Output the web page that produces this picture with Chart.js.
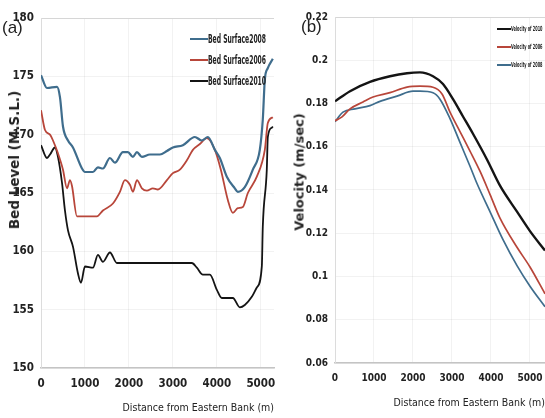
<!DOCTYPE html>
<html>
<head>
<meta charset="utf-8">
<script src="https://cdn.jsdelivr.net/npm/chart.js@4.4.1/dist/chart.umd.min.js"></script>
<style>
  html, body { margin: 0; padding: 0; background: #fff; }
  body { width: 545px; height: 418px; position: relative; overflow: hidden; }
  canvas { position: absolute; top: 0; }
  #chartA { left: 0; }
  #chartB { left: 280px; }
  .tag { position: absolute; font-family: "Liberation Sans", "DejaVu Sans", sans-serif; font-size: 17px; color: #222; line-height: 1; }
  .ytitle { position: absolute; white-space: nowrap; font-family: "DejaVu Sans", sans-serif; font-weight: bold; color: #222; transform: translate(-50%, -50%) rotate(-90deg); }
  .legend { position: absolute; font-family: "Liberation Sans Narrow", "DejaVu Sans Condensed", sans-serif; font-weight: bold; color: #222; }
  .legend .row { position: absolute; display: flex; align-items: center; white-space: nowrap; }
  .legend .sw { display: inline-block; height: 2px; }
</style>
</head>
<body>
<canvas id="chartA" width="280" height="418"></canvas>
<canvas id="chartB" width="265" height="418"></canvas>
<div class="tag" style="left:2px; top:19px;">(a)</div>
<div class="tag" style="left:301px; top:18px;">(b)</div>
<div class="ytitle" style="left:14px; top:160px; font-size:13.5px;">Bed Level (M.S.L.)</div>
<div class="ytitle" style="left:299px; top:172px; font-size:13px;">Velocity (m/sec)</div>
<div class="legend" id="legendA"></div>
<div class="legend" id="legendB"></div>
<script>
// (a) bed level profiles: distance from eastern bank (m) and level (m, M.S.L.)
const distBed2008 = [0, 136, 364, 432, 500, 614, 727, 932, 1000, 1182, 1295, 1409, 1568, 1682, 1864, 1977, 2091, 2182, 2295, 2477, 2705, 2864, 3000, 3227, 3500, 3659, 3795, 3955, 4068, 4227, 4409, 4477, 4636, 4818, 4977, 5045, 5091, 5159, 5273];
const bed2008 = [175.1, 174.0, 174.1, 173.2, 170.7, 169.5, 168.9, 167.1, 166.8, 166.8, 167.2, 167.1, 168.0, 167.6, 168.5, 168.5, 168.1, 168.5, 168.1, 168.3, 168.3, 168.6, 168.9, 169.1, 169.8, 169.5, 169.8, 168.7, 168.0, 166.4, 165.4, 165.1, 165.5, 167.0, 168.7, 171.3, 174.7, 175.7, 176.5];

const distBed2006 = [0, 91, 205, 273, 386, 500, 591, 659, 705, 818, 1000, 1273, 1409, 1636, 1795, 1909, 2023, 2091, 2182, 2295, 2409, 2545, 2659, 2864, 3000, 3159, 3318, 3455, 3614, 3773, 3955, 4091, 4250, 4364, 4477, 4591, 4705, 4909, 5091, 5159, 5273];
const bed2006 = [172.1, 170.4, 170.0, 169.5, 168.4, 167.0, 165.4, 166.1, 165.6, 163.0, 163.0, 163.0, 163.5, 164.1, 165.1, 166.1, 165.7, 165.1, 166.1, 165.4, 165.2, 165.4, 165.3, 166.1, 166.7, 167.0, 167.8, 168.7, 169.2, 169.7, 168.7, 167.0, 164.4, 163.3, 163.7, 163.8, 165.0, 166.4, 168.7, 171.0, 171.5];

const distBed2010 = [0, 136, 205, 318, 386, 477, 545, 614, 727, 841, 909, 1000, 1182, 1295, 1409, 1568, 1727, 3432, 3545, 3682, 3841, 4000, 4114, 4364, 4523, 4636, 4795, 4909, 5023, 5045, 5136, 5159, 5250, 5273];
const bed2010 = [169.1, 168.0, 168.3, 168.9, 168.1, 165.9, 163.5, 161.8, 160.4, 158.1, 157.3, 158.7, 158.6, 159.7, 159.1, 159.9, 159.0, 159.0, 158.6, 158.0, 158.0, 156.7, 156.0, 156.0, 155.2, 155.4, 156.1, 156.9, 158.7, 162.1, 167.0, 169.8, 170.6, 170.7];

// (b) velocity profiles (m/sec)
const distVel2010 = [0, 385, 897, 1410, 1846, 2179, 2513, 2769, 3026, 3282, 3538, 3900, 4231, 4667, 5000, 5385];
const vel2010 = [0.181, 0.1857, 0.190, 0.1926, 0.194, 0.1944, 0.1926, 0.189, 0.182, 0.174, 0.166, 0.154, 0.142, 0.130, 0.121, 0.112];

const distVel2006 = [0, 180, 385, 718, 974, 1410, 1846, 2179, 2513, 2744, 2949, 3205, 3462, 3718, 3974, 4231, 4667, 5000, 5385];
const vel2006 = [0.172, 0.1738, 0.1775, 0.1807, 0.183, 0.185, 0.1876, 0.188, 0.1875, 0.1844, 0.176, 0.167, 0.158, 0.1487, 0.138, 0.127, 0.1135, 0.1044, 0.092];

const distVel2008 = [0, 205, 513, 897, 1154, 1590, 2000, 2179, 2513, 2692, 2949, 3205, 3462, 3641, 3974, 4308, 4667, 5000, 5385];
const vel2008 = [0.1716, 0.176, 0.1775, 0.179, 0.181, 0.1834, 0.1857, 0.1857, 0.185, 0.182, 0.173, 0.162, 0.151, 0.143, 0.130, 0.117, 0.105, 0.0955, 0.086];

// tick labels
const distTicks = [0, 1000, 2000, 3000, 4000, 5000];
const bedTicks = [150, 155, 160, 165, 170, 175, 180];
const velTicks = [0.06, 0.08, 0.1, 0.12, 0.14, 0.16, 0.18, 0.2, 0.22];

const labelsA = ['Bed Surface2008', 'Bed Surface2006', 'Bed Surface2010'];
const labelsB = ['Velocity of 2010', 'Velocity of 2006', 'Velocity of 2008'];

const narrow = '"Liberation Sans Narrow", "DejaVu Sans Condensed", sans-serif';
const blue = '#3f6d8d', red = '#b8463a', black = '#141414';

function pairs(xs, ys) {
    return xs.map((x, i) => ({ x: x, y: ys[i] }));
}

function gridColor(ctx) {
    return ctx.tick && Math.abs(ctx.tick.value - ctx.scale.max) < 1e-9 ? '#d6d6d6' : 'rgba(0,0,0,0.05)';
}

function baseOptions(xMax, yMin, yMax, yTicks, yWidth, xHeight, pad, titlePad, tickSize) {
    return {
        responsive: false,
        animation: false,
        layout: { padding: pad },
        elements: { point: { radius: 0 }, line: { cubicInterpolationMode: 'monotone' } },
        plugins: { legend: { display: false }, tooltip: { enabled: false } },
        scales: {
            x: {
                type: 'linear', min: 0, max: xMax,
                afterBuildTicks: function (s) { s.ticks = distTicks.map(v => ({ value: v })); },
                ticks: { autoSkip: false, maxRotation: 0, padding: 9, callback: v => String(v),
                         font: { family: narrow, size: tickSize, weight: 'bold' }, color: '#222' },
                grid: { color: 'rgba(0,0,0,0.05)', drawTicks: false },
                border: { color: '#c4c4c4', width: 1.5 },
                title: { display: true, text: 'Distance from Eastern Bank (m)', align: 'end',
                         font: { family: narrow, size: 10.5 }, color: '#222', padding: { top: 0, bottom: titlePad } },
                afterFit: function (s) { s.height = xHeight; s.paddingLeft = 0; s.paddingRight = 0; }
            },
            y: {
                min: yMin, max: yMax,
                afterBuildTicks: function (s) { s.ticks = yTicks.map(v => ({ value: v })); },
                ticks: { autoSkip: false, padding: 7, callback: v => String(+v.toFixed(2)),
                         font: { family: narrow, size: tickSize, weight: 'bold' }, color: '#222' },
                grid: { color: gridColor, drawTicks: false },
                border: { color: '#dcdcdc', width: 1 },
                afterFit: function (s) { s.width = yWidth; s.paddingTop = 0; s.paddingBottom = 0; }
            }
        }
    };
}

const chartA = new Chart(document.getElementById('chartA'), {
    type: 'line',
    data: {
        datasets: [
            { label: labelsA[0], data: pairs(distBed2008, bed2008), borderColor: blue, borderWidth: 2.2 },
            { label: labelsA[1], data: pairs(distBed2006, bed2006), borderColor: red, borderWidth: 1.8 },
            { label: labelsA[2], data: pairs(distBed2010, bed2010), borderColor: black, borderWidth: 1.8 }
        ]
    },
    options: baseOptions(5300, 150, 180, bedTicks, 41, 50, { left: 0, right: 6, top: 18, bottom: 0 }, 3, 11.5)
});

const chartB = new Chart(document.getElementById('chartB'), {
    type: 'line',
    data: {
        datasets: [
            { label: labelsB[0], data: pairs(distVel2010, vel2010), borderColor: black, borderWidth: 2.4 },
            { label: labelsB[1], data: pairs(distVel2006, vel2006), borderColor: red, borderWidth: 1.7 },
            { label: labelsB[2], data: pairs(distVel2008, vel2008), borderColor: blue, borderWidth: 1.7 }
        ]
    },
    options: baseOptions(5385, 0.06, 0.22, velTicks, 55, 55, { left: 0, right: 0, top: 17, bottom: 0 }, 8, 10)
});

// legends inside the plot areas, built from the datasets
function buildLegend(el, chart, left, top, gap, lineLen, fontSize, squeeze) {
    el.style.left = left + 'px';
    el.style.top = top + 'px';
    chart.data.datasets.forEach(function (ds, i) {
        const row = document.createElement('div');
        row.className = 'row';
        row.style.top = (i * gap) + 'px';
        row.style.fontSize = fontSize + 'px';
        const sw = document.createElement('span');
        sw.className = 'sw';
        sw.style.width = lineLen + 'px';
        sw.style.background = ds.borderColor;
        const tx = document.createElement('span');
        tx.textContent = ds.label;
        tx.style.display = 'inline-block';
        tx.style.transform = 'scaleX(' + squeeze + ')';
        tx.style.transformOrigin = 'left center';
        row.appendChild(sw);
        row.appendChild(tx);
        el.appendChild(row);
    });
}
buildLegend(document.getElementById('legendA'), chartA, 190, 32, 21, 18, 12, 0.56);
buildLegend(document.getElementById('legendB'), chartB, 497, 25, 18, 14, 7, 0.55);
</script>
</body>
</html>
